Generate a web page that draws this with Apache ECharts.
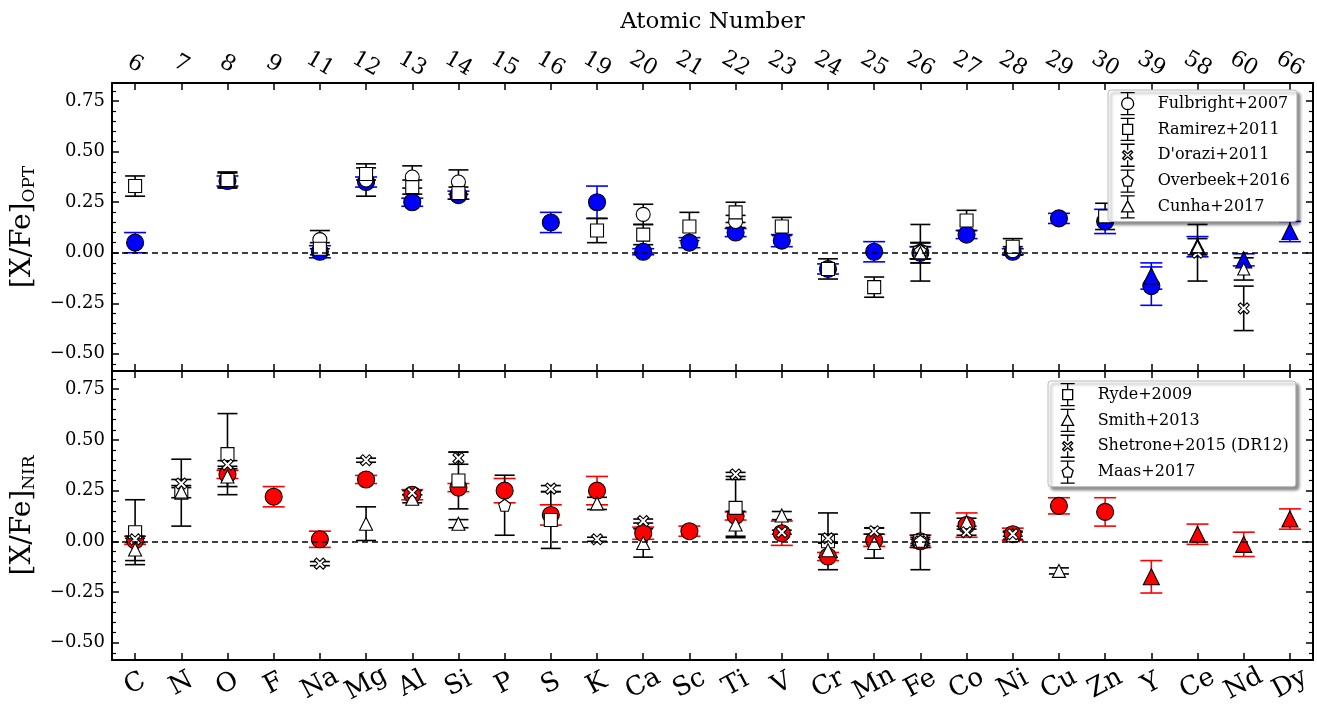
<!DOCTYPE html>
<html>
<head>
<meta charset="utf-8">
<script src="https://cdn.jsdelivr.net/npm/echarts@6/dist/echarts.min.js"></script>
<style>html,body{margin:0;padding:0;background:#fff}#c{width:1317px;height:707px}</style>
</head>
<body>
<div id="c"></div>
<script>
// ---------- data ----------
const elements = ['C','N','O','F','Na','Mg','Al','Si','P','S','K','Ca','Sc','Ti','V','Cr','Mn','Fe','Co','Ni','Cu','Zn','Y','Ce','Nd','Dy'];
const atomicNumbers = ['6','7','8','9','11','12','13','14','15','16','19','20','21','22','23','24','25','26','27','28','29','30','39','58','60','66'];
const yTicks = [-0.5,-0.25,0,0.25,0.5,0.75];
const yMinorTicks = [-0.55,-0.45,-0.4,-0.35,-0.3,-0.2,-0.15,-0.1,-0.05,0.05,0.1,0.15,0.2,0.3,0.35,0.4,0.45,0.55,0.6,0.65,0.7,0.8];

// [element, [X/Fe], error]
// Optical panel
const optThisWorkCircles = [['C',0.05,0.05],['O',0.355,0.025],['Na',0.005,0.03],['Mg',0.35,0.025],['Al',0.25,0.02],['Si',0.285,0.02],['S',0.15,0.05],['K',0.25,0.08],['Ca',0.005,0.015],['Sc',0.05,0.025],['Ti',0.10,0.02],['V',0.06,0.03],['Cr',-0.08,0.025],['Mn',0.005,0.05],['Fe',0.0,0.03],['Co',0.09,0.02],['Ni',0.005,0.015],['Cu',0.17,0.025],['Zn',0.155,0.06],['Y',-0.165,0.095]];
const optThisWorkTriangles = [['Y',-0.115,0.065],['Ce',0.03,0.05],['Nd',-0.035,0.03],['Dy',0.105,0.05]];
const fulbright2007 = [['O',0.36,0.04],['Na',0.065,0.045],['Mg',0.36,0.08],['Al',0.375,0.055],['Si',0.35,0.06],['Ca',0.19,0.05],['Ti',0.155,0.03],['Fe',0.0,0.05],['Ni',0.01,0.02]];
const ramirez2011 = [['C',0.33,0.05],['O',0.36,0.035],['Na',0.02,0.03],['Mg',0.39,0.03],['Al',0.325,0.035],['Si',0.295,0.03],['K',0.11,0.06],['Ca',0.09,0.05],['Sc',0.13,0.07],['Ti',0.2,0.05],['V',0.13,0.045],['Cr',-0.08,0.05],['Mn',-0.17,0.05],['Fe',0.0,0.05],['Co',0.16,0.05],['Ni',0.03,0.04],['Zn',0.18,0.065]];
const dorazi2011 = [['Fe',0.0,0.14],['Ce',0.0,0.14],['Nd',-0.275,0.11]];
const overbeek2016 = [['Fe',0.01,0.04]];
const cunha2017 = [['Fe',0.0,0.03],['Ce',0.03,0.04],['Nd',-0.08,0.055]];

// NIR panel
const nirThisWorkCircles = [['C',0.005,0.02],['O',0.33,0.02],['F',0.22,0.05],['Na',0.01,0.04],['Mg',0.305,0.02],['Al',0.23,0.025],['Si',0.265,0.02],['P',0.25,0.06],['S',0.13,0.05],['K',0.25,0.07],['Ca',0.04,0.03],['Sc',0.05,0.025],['Ti',0.125,0.02],['V',0.04,0.06],['Cr',-0.075,0.02],['Mn',0.005,0.03],['Fe',0.0,0.03],['Co',0.08,0.06],['Ni',0.035,0.03],['Cu',0.175,0.04],['Zn',0.145,0.07]];
const nirThisWorkTriangles = [['Y',-0.175,0.08],['Ce',0.035,0.05],['Nd',-0.015,0.06],['Dy',0.11,0.05]];
const ryde2009 = [['C',0.045,0.16],['N',0.24,0.165],['O',0.43,0.2],['Si',0.30,0.14],['S',0.105,0.14],['Ti',0.165,0.14],['Cr',0.0,0.14],['Fe',0.0,0.14]];
const smith2013 = [['C',-0.04,0.055],['N',0.245,0.03],['O',0.32,0.05],['Mg',0.087,0.083],['Al',0.21,0.02],['Si',0.087,0.02],['K',0.187,0.03],['Ca',-0.008,0.07],['Ti',0.083,0.065],['V',0.127,0.02],['Cr',-0.044,0.035],['Mn',-0.008,0.075],['Fe',0.0,0.03],['Co',0.094,0.02],['Ni',0.03,0.02],['Cu',-0.146,0.015]];
const shetrone2015 = [['C',0.01,0.015],['N',0.285,0.02],['O',0.378,0.02],['Na',-0.11,0.01],['Mg',0.4,0.01],['Al',0.24,0.01],['Si',0.41,0.03],['S',0.26,0.015],['K',0.01,0.01],['Ca',0.1,0.01],['Ti',0.33,0.01],['V',0.045,0.01],['Cr',0.015,0.02],['Mn',0.05,0.015],['Fe',0.0,0.01],['Co',0.045,0.015],['Ni',0.035,0.01]];
const maas2017 = [['P',0.178,0.148],['Fe',0.0,0.02]];

// ---------- styling helpers ----------
const FONT = 'DejaVu Serif';
const XMARK = 'path://M2,0 L5,3 L8,0 L10,2 L7,5 L10,8 L8,10 L5,7 L2,10 L0,8 L3,5 L0,2 Z';
const PENTA = 'path://M5,0 L10,3.8 L8.1,10 L1.9,10 L0,3.8 Z';
const CAPS = 'M3,1 L17,1 M10,1 L10,7 M10,17 L10,23 M3,23 L17,23 ';
const ICON = {
  circle: 'path://' + CAPS + 'M16,12 A6,6 0 1 1 4,12 A6,6 0 1 1 16,12 Z',
  rect: 'path://' + CAPS + 'M5,7 L15,7 L15,17 L5,17 Z',
  triangle: 'path://' + CAPS + 'M10,6 L16,17 L4,17 Z',
  x: 'path://' + CAPS + 'M6.5,7.5 L10,10.5 L13.5,7.5 L15,9 L12,12 L15,15 L13.5,16.5 L10,13.5 L6.5,16.5 L5,15 L8,12 L5,9 Z',
  penta: 'path://' + CAPS + 'M10,6.5 L15.5,10.5 L13.5,17 L6.5,17 L4.5,10.5 Z'
};

function errRender(color, cap) {
  return function (params, api) {
    const xi = api.value(0), y = api.value(1), e = api.value(2);
    const p1 = api.coord([xi, y + e]);
    const p2 = api.coord([xi, y - e]);
    const h = cap / 2;
    const st = { stroke: color, lineWidth: 1.6 };
    return {
      type: 'group',
      children: [
        { type: 'line', shape: { x1: p1[0], y1: p1[1], x2: p2[0], y2: p2[1] }, style: st },
        { type: 'line', shape: { x1: p1[0] - h, y1: p1[1], x2: p1[0] + h, y2: p1[1] }, style: st },
        { type: 'line', shape: { x1: p2[0] - h, y1: p2[1], x2: p2[0] + h, y2: p2[1] }, style: st }
      ]
    };
  };
}

const series = [];
function addSet(name, data, symbol, size, fill, errColor, cap, panel) {
  const xi = panel === 0 ? 0 : 2;
  const yi = panel === 0 ? 0 : 4;
  series.push({
    name: name + ' err', type: 'custom', xAxisIndex: xi, yAxisIndex: yi,
    renderItem: errRender(errColor, cap), clip: false, silent: true,
    encode: { x: 0, y: 1 },
    data: data.map(d => [d[0], d[1], d[2]])
  });
  series.push({
    name: name, type: 'scatter', xAxisIndex: xi, yAxisIndex: yi,
    symbol: symbol, symbolSize: size, silent: true,
    itemStyle: { color: fill, borderColor: '#000', borderWidth: 1.1, opacity: 1 },
    data: data.map(d => [d[0], d[1]])
  });
}

// zero lines
[0, 1].forEach(p => {
  series.push({
    type: 'line', xAxisIndex: p === 0 ? 0 : 2, yAxisIndex: p === 0 ? 0 : 4, data: [], silent: true,
    markLine: { symbol: 'none', silent: true, label: { show: false },
      lineStyle: { color: '#000', type: [6, 4], width: 1.5 }, data: [{ yAxis: 0 }] }
  });
});

addSet('This work OPT', optThisWorkCircles, 'circle', 17, '#0000ff', '#0000ff', 22, 0);
addSet('This work OPT tri', optThisWorkTriangles, 'triangle', 16, '#0000ff', '#0000ff', 22, 0);
addSet('Fulbright+2007', fulbright2007, 'circle', 14, '#fff', '#000', 20, 0);
addSet('Ramirez+2011', ramirez2011, 'rect', 13, '#fff', '#000', 20, 0);
addSet("D'orazi+2011", dorazi2011, XMARK, 11, '#fff', '#000', 20, 0);
addSet('Overbeek+2016', overbeek2016, PENTA, 12, '#fff', '#000', 20, 0);
addSet('Cunha+2017', cunha2017, 'triangle', 12, '#fff', '#000', 20, 0);

addSet('This work NIR', nirThisWorkCircles, 'circle', 17, '#ff0000', '#ff0000', 22, 1);
addSet('This work NIR tri', nirThisWorkTriangles, 'triangle', 16, '#ff0000', '#ff0000', 22, 1);
addSet('Ryde+2009', ryde2009, 'rect', 13, '#fff', '#000', 20, 1);
addSet('Smith+2013', smith2013, 'triangle', 13, '#fff', '#000', 20, 1);
addSet('Shetrone+2015 (DR12)', shetrone2015, XMARK, 11, '#fff', '#000', 20, 1);
addSet('Maas+2017', maas2017, PENTA, 12, '#fff', '#000', 20, 1);

// ---------- axes ----------
const fmt = v => (v < 0 ? '\u2212' : '') + Math.abs(v).toFixed(2);
const YMIN = -0.585, YMAX = 0.84;
function yAxesFor(grid, nameRich) {
  const base = { type: 'value', gridIndex: grid, min: YMIN, max: YMAX, splitLine: { show: false } };
  return [
    Object.assign({}, base, {
      position: 'left',
      axisLine: { show: true, lineStyle: { color: '#000', width: 2 } },
      axisTick: { show: true, inside: true, length: 7, customValues: yTicks, lineStyle: { color: '#000', width: 1.5 } },
      axisLabel: { show: true, customValues: yTicks, formatter: fmt, fontFamily: FONT, fontSize: 18, color: '#000', margin: 7 },
      name: nameRich, nameLocation: 'middle', nameRotate: 90, nameGap: 74,
      nameTextStyle: { fontFamily: FONT, color: '#000', rich: {
        a: { fontFamily: FONT, fontSize: 28, color: '#000' },
        b: { fontFamily: FONT, fontSize: 17, color: '#000', padding: [13, 0, 0, 0] } } }
    }),
    Object.assign({}, base, {
      position: 'right',
      axisLine: { show: true, lineStyle: { color: '#000', width: 2 } },
      axisTick: { show: true, inside: true, length: 7, customValues: yTicks, lineStyle: { color: '#000', width: 1.5 } },
      axisLabel: { show: false }
    }),
    Object.assign({}, base, {
      position: 'left',
      axisLine: { show: false },
      axisTick: { show: true, inside: true, length: 4, customValues: yMinorTicks, lineStyle: { color: '#000', width: 1.2 } },
      axisLabel: { show: false, customValues: yMinorTicks }
    }),
    Object.assign({}, base, {
      position: 'right',
      axisLine: { show: false },
      axisTick: { show: true, inside: true, length: 4, customValues: yMinorTicks, lineStyle: { color: '#000', width: 1.2 } },
      axisLabel: { show: false, customValues: yMinorTicks }
    })
  ];
}

function xAxis(grid, pos, data, label) {
  const a = {
    type: 'category', gridIndex: grid, position: pos, data: data, boundaryGap: true,
    axisLine: { show: true, onZero: false, lineStyle: { color: '#000', width: 2 } },
    axisTick: { show: true, inside: true, alignWithLabel: true, length: 7, lineStyle: { color: '#000', width: 1.5 } },
    splitLine: { show: false },
    axisLabel: { show: false }
  };
  if (label) a.axisLabel = Object.assign({ show: true, interval: 0, fontFamily: FONT, color: '#000' }, label);
  return a;
}

const xAxes = [
  xAxis(0, 'bottom', elements, null),
  Object.assign(xAxis(0, 'top', atomicNumbers, { rotate: 30, fontSize: 22, margin: 19, align: 'center', verticalAlign: 'middle' }), {
    name: 'Atomic Number', nameLocation: 'middle', nameGap: 49,
    nameTextStyle: { fontFamily: FONT, fontSize: 23, color: '#000' }
  }),
  xAxis(1, 'bottom', elements, { rotate: 28, fontSize: 26, margin: 24, align: 'center', verticalAlign: 'middle' }),
  xAxis(1, 'top', elements, null)
];

const yAxes = yAxesFor(0, '{a|[X/Fe]}{b|OPT}').concat(yAxesFor(1, '{a|[X/Fe]}{b|NIR}'));

const legendBase = {
  orient: 'vertical', backgroundColor: '#fff', borderColor: '#bbb', borderWidth: 1, borderRadius: 3,
  shadowColor: 'rgba(0,0,0,0.45)', shadowBlur: 3, shadowOffsetX: 3, shadowOffsetY: 3,
  itemWidth: 14, itemHeight: 22, itemGap: 2.5,
  textStyle: { fontFamily: FONT, fontSize: 16, color: '#000', padding: [0, 0, 0, 18] },
  itemStyle: { color: '#fff', borderColor: '#000', borderWidth: 1.3 },
  selectedMode: false
};
function li(name, icon) { return { name: name, icon: icon, itemStyle: { color: '#fff', borderColor: '#000', borderWidth: 1.3 } }; }

const option = {
  animation: false,
  backgroundColor: '#fff',
  grid: [
    { left: 112, right: 4, top: 83, height: 288, containLabel: false },
    { left: 112, right: 4, top: 371, height: 289, containLabel: false }
  ],
  xAxis: xAxes,
  yAxis: yAxes,
  legend: [
    Object.assign({}, legendBase, { left: 1108, top: 90, padding: [2, 7, 3, 12],
      data: [li('Fulbright+2007', ICON.circle), li('Ramirez+2011', ICON.rect), li("D'orazi+2011", ICON.x), li('Overbeek+2016', ICON.penta), li('Cunha+2017', ICON.triangle)] }),
    Object.assign({}, legendBase, { left: 1048, top: 381, padding: [2, 7, 3, 12],
      data: [li('Ryde+2009', ICON.rect), li('Smith+2013', ICON.triangle), li('Shetrone+2015 (DR12)', ICON.x), li('Maas+2017', ICON.penta)] })
  ],
  series: series
};

const chart = echarts.init(document.getElementById('c'), null, { renderer: 'canvas' });
chart.setOption(option);
</script>
</body>
</html>
